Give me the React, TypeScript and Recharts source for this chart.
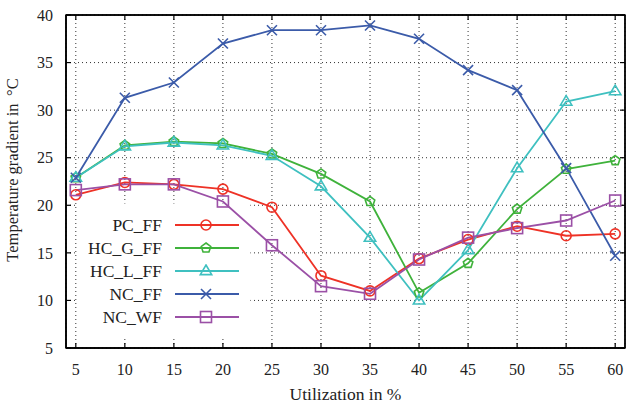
import React from 'react';
import { LineChart, Line, XAxis, YAxis, CartesianGrid, ReferenceArea, ReferenceLine } from 'recharts';

const utilization = [5, 10, 15, 20, 25, 30, 35, 40, 45, 50, 55, 60];
const pcFF = [21.1, 22.4, 22.2, 21.7, 19.8, 12.6, 11.0, 14.4, 16.4, 17.8, 16.8, 17.0];
const hcGFF = [22.9, 26.3, 26.7, 26.5, 25.4, 23.3, 20.4, 10.8, 13.9, 19.6, 23.8, 24.7];
const hcLFF = [22.9, 26.2, 26.6, 26.3, 25.2, 22.0, 16.6, 10.0, 15.3, 23.9, 30.9, 32.0];
const ncFF = [22.9, 31.3, 32.9, 37.0, 38.4, 38.4, 38.9, 37.5, 34.2, 32.1, 23.9, 14.7];
const ncWF = [21.6, 22.2, 22.2, 20.4, 15.8, 11.5, 10.7, 14.3, 16.6, 17.6, 18.4, 20.5];
const xTicks = [5, 10, 15, 20, 25, 30, 35, 40, 45, 50, 55, 60];
const yTicks = [5, 10, 15, 20, 25, 30, 35, 40];
const xDomain = [4, 61];
const yDomain = [5, 40];

const data = utilization.map((u, i) => ({
  u,
  PC_FF: pcFF[i],
  HC_G_FF: hcGFF[i],
  HC_L_FF: hcLFF[i],
  NC_FF: ncFF[i],
  NC_WF: ncWF[i],
}));

const series = [
  { key: 'PC_FF', color: '#ee3226', marker: 'circle' },
  { key: 'HC_G_FF', color: '#3fb23b', marker: 'pentagon' },
  { key: 'HC_L_FF', color: '#3fc0c0', marker: 'triangle' },
  { key: 'NC_FF', color: '#3b5ba9', marker: 'cross' },
  { key: 'NC_WF', color: '#9b50a6', marker: 'square' },
];

const FONT = 'serif';
const TEXT = '#222';
const AX = 'black';
// inner tick length expressed in axis units (~5px)
const TX = 0.51;
const TY = 0.53;

function Marker({ kind, cx, cy, color }: { kind: string; cx: number; cy: number; color: string }) {
  if (cx == null || cy == null) return <g />;
  const sw = 1.6;
  switch (kind) {
    case 'circle':
      return <circle cx={cx} cy={cy} r={5} fill="none" stroke={color} strokeWidth={sw} />;
    case 'pentagon': {
      const r = 5;
      const pts = [0, 1, 2, 3, 4]
        .map((k) => {
          const a = -Math.PI / 2 + (k * 2 * Math.PI) / 5;
          return `${cx + r * Math.cos(a)},${cy + r * Math.sin(a)}`;
        })
        .join(' ');
      return <polygon points={pts} fill="none" stroke={color} strokeWidth={sw} />;
    }
    case 'triangle': {
      const r = 6;
      const pts = `${cx},${cy - r} ${cx + r * 0.95},${cy + r * 0.6} ${cx - r * 0.95},${cy + r * 0.6}`;
      return <polygon points={pts} fill="none" stroke={color} strokeWidth={sw} />;
    }
    case 'cross': {
      const r = 5;
      return (
        <g stroke={color} strokeWidth={sw}>
          <line x1={cx - r} y1={cy - r} x2={cx + r} y2={cy + r} />
          <line x1={cx - r} y1={cy + r} x2={cx + r} y2={cy - r} />
        </g>
      );
    }
    case 'square':
    default: {
      const r = 5.5;
      return <rect x={cx - r} y={cy - r} width={2 * r} height={2 * r} fill="none" stroke={color} strokeWidth={sw} />;
    }
  }
}

function LegendBox() {
  return (
    <div
      style={{
        position: 'absolute',
        left: 70,
        top: 213.5,
        width: 180,
        fontFamily: FONT,
        fontSize: 17.5,
        color: TEXT,
        pointerEvents: 'none',
      }}
    >
      {series.map((s) => (
        <div key={s.key} style={{ display: 'flex', alignItems: 'center', height: 23 }}>
          <span style={{ width: 92, textAlign: 'right', display: 'inline-block', lineHeight: '23px' }}>{s.key}</span>
          <svg width={64} height={14} style={{ marginLeft: 13, display: 'block' }}>
            <line x1={0} y1={7} x2={64} y2={7} stroke={s.color} strokeWidth={1.8} />
            <Marker kind={s.marker} cx={31} cy={7} color={s.color} />
          </svg>
        </div>
      ))}
    </div>
  );
}

export default function App() {
  return (
    <div style={{ position: 'absolute', left: 0, top: 0, width: 629, height: 405, background: '#fff' }}>
      <LineChart width={629} height={405} data={data} margin={{ top: 15, right: 4, bottom: 0, left: 0 }}>
        <CartesianGrid stroke="#333" strokeDasharray="1 3" strokeWidth={1} />
        <CartesianGrid
          stroke={AX}
          strokeWidth={1.4}
          horizontalValues={yDomain}
          verticalValues={xDomain}
        />
        <ReferenceArea x1={5.15} x2={22.8} y1={6.1} y2={20.2} fill="#fff" fillOpacity={1} stroke="none" />
        <XAxis
          dataKey="u"
          type="number"
          domain={xDomain}
          ticks={xTicks}
          orientation="bottom"
          height={57}
          tickSize={0}
          tickLine={false}
          stroke={AX}
          tickMargin={15.6}
          tick={{ fill: TEXT, fontFamily: FONT, fontSize: 16 }}
          label={{ value: 'Utilization in %', position: 'insideBottom', offset: 5, fill: TEXT, fontFamily: FONT, fontSize: 17.5 }}
        />
        <YAxis
          type="number"
          domain={yDomain}
          ticks={yTicks}
          orientation="left"
          width={66}
          tickSize={0}
          tickLine={false}
          stroke={AX}
          tickMargin={13}
          tick={{ fill: TEXT, fontFamily: FONT, fontSize: 16 }}
          label={{
            content: (p: any) => {
              const vb = p.viewBox || { x: 0, y: 15, width: 66, height: 333 };
              const cx = vb.x + 18;
              const cy = 170;
              return (
                <text
                  x={cx}
                  y={cy}
                  transform={`rotate(-90, ${cx}, ${cy})`}
                  textAnchor="middle"
                  fill={TEXT}
                  fontFamily={FONT}
                  fontSize={16.5}
                >
                  Temperature gradient in {'\u2009'}°C
                </text>
              );
            },
          }}
        />
        {xTicks.map((t) => (
          <ReferenceLine
            key={`xb${t}`}
            ifOverflow="visible"
            segment={[{ x: t, y: yDomain[0] }, { x: t, y: yDomain[0] + TY }]}
            stroke={AX}
            strokeWidth={1.2}
          />
        ))}
        {xTicks.map((t) => (
          <ReferenceLine
            key={`xt${t}`}
            ifOverflow="visible"
            segment={[{ x: t, y: yDomain[1] }, { x: t, y: yDomain[1] - TY }]}
            stroke={AX}
            strokeWidth={1.2}
          />
        ))}
        {yTicks.map((t) => (
          <ReferenceLine
            key={`yl${t}`}
            ifOverflow="visible"
            segment={[{ x: xDomain[0], y: t }, { x: xDomain[0] + TX, y: t }]}
            stroke={AX}
            strokeWidth={1.2}
          />
        ))}
        {yTicks.map((t) => (
          <ReferenceLine
            key={`yr${t}`}
            ifOverflow="visible"
            segment={[{ x: xDomain[1], y: t }, { x: xDomain[1] - TX, y: t }]}
            stroke={AX}
            strokeWidth={1.2}
          />
        ))}
        <ReferenceArea
          x1={xDomain[0]}
          x2={xDomain[1]}
          y1={yDomain[0]}
          y2={yDomain[1]}
          ifOverflow="visible"
          fill="none"
          stroke={AX}
          strokeWidth={1.4}
        />
        {series.map((s) => (
          <Line
            key={s.key}
            type="linear"
            dataKey={s.key}
            name={s.key}
            stroke={s.color}
            strokeWidth={1.8}
            isAnimationActive={false}
            dot={(p: any) => <Marker key={`${s.key}-${p.index}`} kind={s.marker} cx={p.cx} cy={p.cy} color={s.color} />}
            activeDot={false}
          />
        ))}
      </LineChart>
      <LegendBox />
    </div>
  );
}
